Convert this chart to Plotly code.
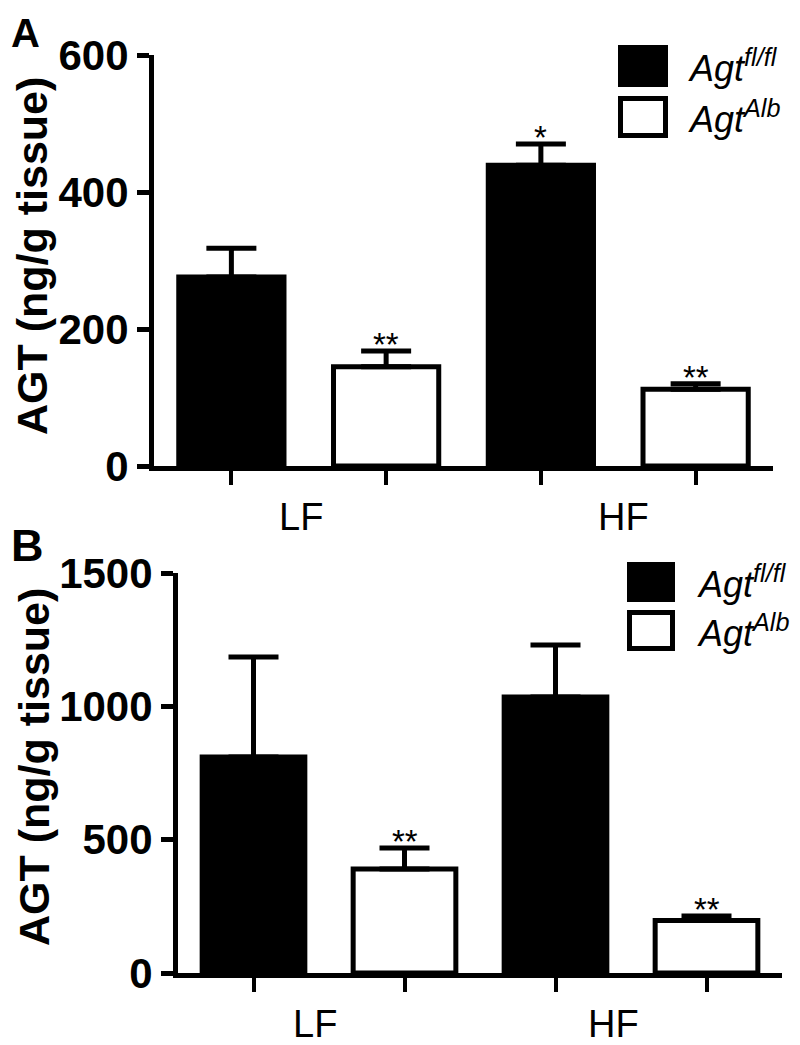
import plotly.graph_objects as go

# ---------------- data ----------------
categories = ["LF", "HF"]
series_names = ["Agt<sup>fl/fl</sup>", "Agt<sup>Alb</sup>"]
series_fill = ["black", "white"]

A_flfl = [276, 439]
A_flfl_err = [42, 31]
A_alb = [145, 112]
A_alb_err = [23, 8]
A_sig_flfl = ["", "*"]
A_sig_alb = ["**", "**"]

B_flfl = [810, 1035]
B_flfl_err = [375, 195]
B_alb = [390, 197]
B_alb_err = [79, 17]
B_sig_flfl = ["", ""]
B_sig_alb = ["**", "**"]

A_yticks = [0, 200, 400, 600]
B_yticks = [0, 500, 1000, 1500]
y_title = "AGT (ng/g tissue)"

W, H = 800, 1045
OFF = 8  # page body margin of the html page
FONT = "Liberation Sans, Arial, sans-serif"


def py(px):
    return 1 - (px - OFF) / H


def px_x(px):
    return (px - OFF) / W


fig = go.Figure()

panels = [
    dict(name="A", xa="x", ya="y",
         vals=[(A_flfl, A_flfl_err, A_sig_flfl), (A_alb, A_alb_err, A_sig_alb)],
         xdom=[154, 773], ydom=[55, 466], yr=[0, 600], ticks=A_yticks,
         title_xy=(32, 256), label_xy=(9, 9), label_size=40, cat_top=494, cat_shift=[-8, 5],
         leg=dict(x0=618, x1=668, rows=[(45, 87), (96, 138)], tx=686)),
    dict(name="B", xa="x2", ya="y2",
         vals=[(B_flfl, B_flfl_err, B_sig_flfl), (B_alb, B_alb_err, B_sig_alb)],
         xdom=[178, 782], ydom=[573, 973], yr=[0, 1500], ticks=B_yticks,
         title_xy=(34, 767), label_xy=(9, 518), label_size=45, cat_top=1001, cat_shift=[-14, -18],
         leg=dict(x0=627, x1=675, rows=[(562, 602), (610, 651)], tx=695)),
]

nser = len(series_names)
for p in panels:
    for j, (vals, errs, sigs) in enumerate(p["vals"]):
        xs = [1 + i * nser + j for i in range(len(categories))]
        fig.add_trace(go.Bar(
            x=xs, y=vals, width=0.68, xaxis=p["xa"], yaxis=p["ya"],
            marker=dict(color=series_fill[j], line=dict(color="black", width=5)),
            error_y=dict(type="data", array=errs, arrayminus=[0] * len(errs),
                         symmetric=False, color="black", thickness=5, width=25),
            showlegend=False, name=series_names[j],
        ))
        for x, v, e, s in zip(xs, vals, errs, sigs):
            if s:
                fig.add_annotation(x=x, y=v + e, xref=p["xa"], yref=p["ya"], text=s,
                                   showarrow=False, yanchor="bottom", yshift=-14,
                                   font=dict(family=FONT, size=33, color="black"))
    # category labels
    for i, c in enumerate(categories):
        xc = 1 + i * nser + (nser - 1) / 2
        fig.add_annotation(x=xc, y=py(p["cat_top"]), xref=p["xa"], yref="paper", text=c,
                           showarrow=False, yanchor="top", xshift=p["cat_shift"][i],
                           font=dict(family=FONT, size=38, color="black"))
    # axis title
    fig.add_annotation(x=px_x(p["title_xy"][0]), y=py(p["title_xy"][1]), xref="paper", yref="paper",
                       text=y_title, textangle=-90, showarrow=False,
                       xanchor="center", yanchor="middle",
                       font=dict(family=FONT, size=43, color="black", weight="bold"))
    # panel label
    fig.add_annotation(x=px_x(p["label_xy"][0]), y=py(p["label_xy"][1]), xref="paper", yref="paper",
                       text=p["name"], showarrow=False, xanchor="left", yanchor="top",
                       font=dict(family=FONT, size=p["label_size"], color="black", weight="bold"))
    # legend (drawn manually)
    lg = p["leg"]
    for j, (t, b) in enumerate(lg["rows"]):
        fig.add_shape(type="rect", xref="paper", yref="paper",
                      x0=px_x(lg["x0"] + 2.5), x1=px_x(lg["x1"] - 2.5), y0=py(b - 2.5), y1=py(t + 2.5),
                      fillcolor=series_fill[j], line=dict(color="black", width=5))
        fig.add_annotation(x=px_x(lg["tx"]), y=py((t + b) / 2), xref="paper", yref="paper",
                           text=series_names[j], showarrow=False, xanchor="left", yanchor="middle",
                           font=dict(family=FONT, size=36, color="black", style="italic"))

    xk = "xaxis" if p["xa"] == "x" else "xaxis2"
    yk = "yaxis" if p["ya"] == "y" else "yaxis2"
    fig.update_layout(**{
        xk: dict(domain=[px_x(p["xdom"][0]), px_x(p["xdom"][1])], range=[0.5, 4.5],
                 anchor=p["ya"], showline=True, linewidth=5, linecolor="black",
                 ticks="outside", ticklen=14, tickwidth=4, tickcolor="black",
                 tickvals=[1, 2, 3, 4], showticklabels=False, automargin=False,
                 showgrid=False, zeroline=False, fixedrange=True),
        yk: dict(domain=[py(p["ydom"][1]), py(p["ydom"][0])], range=p["yr"],
                 anchor=p["xa"], showline=True, linewidth=5, linecolor="black",
                 ticks="outside", ticklen=12, tickwidth=5, tickcolor="black",
                 tickvals=p["ticks"], ticklabelstandoff=0, automargin=False,
                 tickfont=dict(family=FONT, size=42, color="black", weight="bold"),
                 showgrid=False, zeroline=False, fixedrange=True),
    })

fig.update_layout(width=W, height=H, margin=dict(l=0, r=0, t=0, b=0, autoexpand=False),
                  plot_bgcolor="white", paper_bgcolor="white", barmode="overlay",
                  showlegend=False)

fig.write_html("out.html")
